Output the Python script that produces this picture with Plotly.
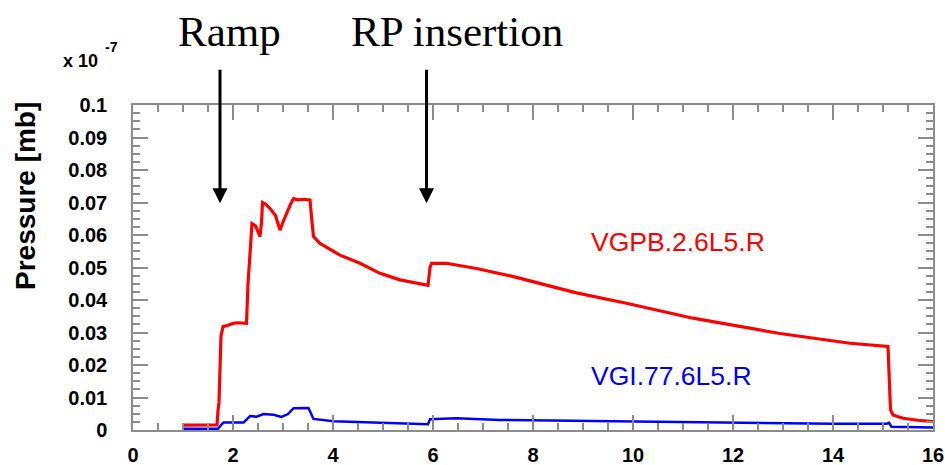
import plotly.graph_objects as go

# Red gauge VGPB.2.6L5.R  (time in h, pressure in units of 1e-7 mb)
red_x = [1.00, 1.30, 1.68, 1.70, 1.72, 1.76, 1.80, 1.90, 2.00, 2.10, 2.20, 2.27,
         2.30, 2.33, 2.35, 2.38, 2.45, 2.50, 2.54, 2.57, 2.59, 2.65, 2.75, 2.85,
         2.94, 3.00, 3.07, 3.15, 3.21, 3.30, 3.40, 3.54, 3.58, 3.61, 3.74, 3.90,
         4.14, 4.54, 4.94, 5.34, 5.70, 5.90, 5.94, 5.97, 6.27, 6.87, 7.61, 8.27,
         8.87, 9.87, 11.20, 12.94, 14.34, 15.10, 15.13, 15.15, 15.20, 15.40,
         15.70, 16.00]
red_y = [0.0015, 0.0016, 0.0016, 0.0060, 0.0085, 0.0290, 0.0318, 0.0322, 0.0328,
         0.0330, 0.0330, 0.0328, 0.0450, 0.0535, 0.0550, 0.0635, 0.0628, 0.0610,
         0.0595, 0.0640, 0.0700, 0.0695, 0.0680, 0.0660, 0.0615, 0.0640, 0.0667,
         0.0695, 0.0712, 0.0708, 0.0710, 0.0708, 0.0640, 0.0595, 0.0574, 0.0560,
         0.0538, 0.0513, 0.0482, 0.0462, 0.0450, 0.0445, 0.0500, 0.0513, 0.0513,
         0.0497, 0.0472, 0.0446, 0.0422, 0.0390, 0.0344, 0.0297, 0.0267, 0.0257,
         0.0150, 0.0062, 0.0046, 0.0036, 0.0030, 0.0026]

# Blue gauge VGI.77.6L5.R
blue_x = [1.00, 1.70, 1.76, 1.81, 2.21, 2.30, 2.34, 2.47, 2.61, 2.81, 2.97, 3.10,
          3.21, 3.51, 3.57, 3.61, 4.01, 5.01, 5.81, 5.90, 5.94, 6.47, 7.34, 8.34,
          10.00, 12.00, 14.00, 15.07, 15.12, 15.17, 15.50, 16.00]
blue_y = [0.0004, 0.0004, 0.0015, 0.0023, 0.0023, 0.0038, 0.0043, 0.0041, 0.0049,
          0.0047, 0.0040, 0.0049, 0.0067, 0.0068, 0.0045, 0.0034, 0.0027, 0.0022,
          0.0017, 0.0018, 0.0033, 0.0036, 0.0031, 0.0029, 0.0026, 0.0021, 0.0019,
          0.0019, 0.0022, 0.0010, 0.0009, 0.0008]

x_ticks = [0, 2, 4, 6, 8, 10, 12, 14, 16]
y_ticks = [0, 0.01, 0.02, 0.03, 0.04, 0.05, 0.06, 0.07, 0.08, 0.09, 0.1]
y_ticktext = ["0", "0.01", "0.02", "0.03", "0.04", "0.05", "0.06", "0.07",
              "0.08", "0.09", "0.1"]

GREY = "#8c8c8c"
SANS = "Liberation Sans, Arial, sans-serif"
SERIF = "Liberation Serif, Times New Roman, serif"

fig = go.Figure()
fig.add_trace(go.Scatter(x=red_x, y=red_y, mode="lines",
                         line=dict(color="#ff0000", width=3.2), name="VGPB.2.6L5.R"))
fig.add_trace(go.Scatter(x=blue_x, y=blue_y, mode="lines",
                         line=dict(color="#0000ff", width=2.5), name="VGI.77.6L5.R"))

axis_common = dict(showgrid=False, zeroline=False, showline=True, linecolor=GREY,
                   linewidth=1.5, ticks="inside", tickcolor=GREY, ticklen=15,
                   tickwidth=1.5, mirror="allticks", automargin=False,
                   tickfont=dict(family=SANS, size=20, color="black", weight="bold"))

fig.update_xaxes(range=[0, 16], tickvals=x_ticks, ticklabelstandoff=6,
                 minor=dict(dtick=0.5, ticks="inside", ticklen=7, tickcolor=GREY,
                            tickwidth=1.5),
                 **axis_common)
fig.update_yaxes(range=[0, 0.1], tickvals=y_ticks, ticktext=y_ticktext,
                 ticklabelstandoff=20,
                 minor=dict(dtick=0.0025, ticks="inside", ticklen=7, tickcolor=GREY,
                            tickwidth=1.5),
                 **axis_common)

annotations = [
    dict(text="Pressure [mb]", x=-0.135, y=0.72, xref="paper", yref="paper",
         xanchor="center", yanchor="middle", textangle=-90, showarrow=False,
         font=dict(family=SANS, size=28, color="black", weight="bold")),
    dict(text="x 10", x=-0.041, y=1.135, xref="paper", yref="paper",
         showarrow=False, xanchor="right", yanchor="middle",
         font=dict(family=SANS, size=18, color="black", weight="bold")),
    dict(text="-7", x=-0.016, y=1.178, xref="paper", yref="paper",
         showarrow=False, xanchor="right", yanchor="middle",
         font=dict(family=SANS, size=14, color="black", weight="bold")),
    dict(text="Ramp", x=0.12, y=1.225, xref="paper", yref="paper",
         xanchor="center", yanchor="middle",
         showarrow=False, font=dict(family=SERIF, size=43, color="black")),
    dict(text="RP insertion", x=0.4046, y=1.225, xref="paper", yref="paper",
         xanchor="center", yanchor="middle",
         showarrow=False, font=dict(family=SERIF, size=43, color="black")),
    dict(text="", x=1.74, y=0.0698, xref="x", yref="y", showarrow=True,
         ax=0, ay=-135, arrowhead=2, arrowsize=1, arrowwidth=3, arrowcolor="black"),
    dict(text="", x=5.87, y=0.0698, xref="x", yref="y", showarrow=True,
         ax=0, ay=-135, arrowhead=2, arrowsize=1, arrowwidth=3, arrowcolor="black"),
    dict(text="VGPB.2.6L5.R", x=10.89, y=0.0577, xref="x", yref="y",
         xanchor="center", yanchor="middle",
         showarrow=False, font=dict(family=SANS, size=26.5, color="#ff0000")),
    dict(text="VGI.77.6L5.R", x=10.76, y=0.0166, xref="x", yref="y",
         xanchor="center", yanchor="middle",
         showarrow=False, font=dict(family=SANS, size=26.5, color="#0000ff")),
]

fig.update_layout(width=945, height=465, autosize=False,
                  margin=dict(l=133, r=12, t=105, b=35, autoexpand=False),
                  paper_bgcolor="white", plot_bgcolor="white",
                  showlegend=False, annotations=annotations)

fig.write_html("out.html")
